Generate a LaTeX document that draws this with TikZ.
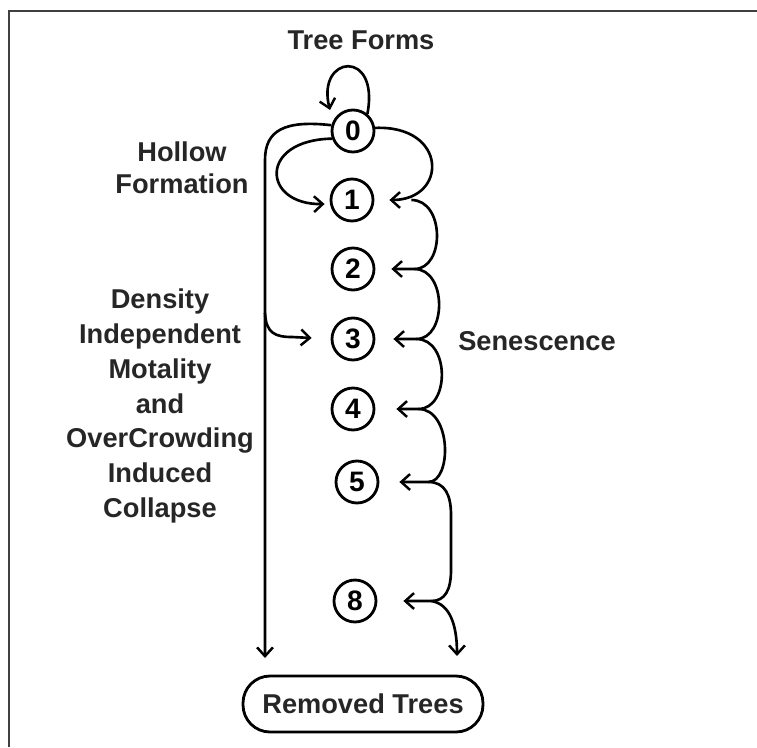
\documentclass[tikz,border=0pt]{standalone}
\usepackage{fontspec}
\setmainfont{Liberation Sans}
\usetikzlibrary{arrows.meta,calc}
\begin{document}
\begin{tikzpicture}[x=0.02cm,y=-0.02cm,
  lbl/.style={font=\bfseries\fontsize{15.5}{19.8}\selectfont, align=center, inner sep=0, text=black!85},
  st/.style={draw, circle, line width=1.6pt, minimum size=0.84cm, inner sep=0, font=\bfseries\fontsize{16}{18}\selectfont},
  arr/.style={line width=1.5pt, -{Straight Barb[length=5pt,width=9pt,line width=1.4pt]}},
  ln/.style={line width=1.5pt}]
\useasboundingbox (0,0) rectangle (757,747);
% frame
\draw[line width=1.2pt, black!75] (9,747) -- (9,11) -- (757,11);
% labels
\node[lbl] (tf) at (361,40) {Tree Forms};
\node[lbl, font=\bfseries\fontsize{15.5}{18.1}\selectfont] (hf) at (182,168) {Hollow\\Formation};
\node[lbl] (di) at (160,406) {Density\\Independent\\Motality\\and\\OverCrowding\\Induced\\Collapse};
\node[lbl] (sen) at (537,341) {Senescence};
% states
\node[st] (c0) at (353,131) {0};
\node[st] (c1) at (352,200) {1};
\node[st] (c2) at (353,269) {2};
\node[st] (c3) at (353,339) {3};
\node[st] (c4) at (353,409) {4};
\node[st] (c5) at (357,482) {5};
\node[st] (c8) at (355,601) {8};
\node[draw, line width=1.6pt, rounded corners=0.54cm, minimum width=4.8cm, minimum height=1.12cm,
      font=\bfseries\fontsize{15.5}{18}\selectfont, text=black!85] (rt) at (363,704) {Removed Trees};
% helper coordinates
\coordinate (t1) at ($(c1.east)+(15,0)$);
\coordinate (t2) at ($(c2.east)+(16,0)$);
\coordinate (t3) at ($(c3.east)+(18,0)$);
\coordinate (t4) at ($(c4.east)+(21,0)$);
\coordinate (t5) at ($(c5.east)+(20,0)$);
\coordinate (t8) at ($(c8.east)+(26,0)$);
\coordinate (j1) at ($(t1)+(22,0)$);
\coordinate (j2) at ($(t2)+(23,0)$);
\coordinate (j3) at ($(t3)+(23,0)$);
\coordinate (j4) at ($(t4)+(22,0)$);
\coordinate (j5) at ($(t5)+(29,0)$);
\coordinate (j8) at ($(t8)+(28,0)$);
\coordinate (lp) at ($(c0)+(-23,-21)$);
\coordinate (h1) at ($(c1.west)+(-5,4)$);
\coordinate (vb) at (265,658);
\coordinate (dv) at (265,313);
\coordinate (d3) at ($(c3.west)+(-19,-1)$);
\coordinate (rb) at (457,656);
% self loop
\draw[arr] (c0.50) .. controls (380,48) and (316,55) .. (lp);
% removal line
\draw[arr] (c0.165) .. controls (285,120) and (265,130) .. (265,160) -- (vb);
% hollow formation
\draw[arr] (c0.200) .. controls (258,140) and (262,205) .. (h1);
% density independent
\draw[arr] (dv) .. controls (266,333) and (275,337) .. (292,337) -- (d3);
% senescence
\draw[arr] (c0.8) .. controls (448,125) and (448,200) .. (t1);
\draw[arr] (j1) .. controls (445,200) and (445,269) .. (j2) -- (t2);
\draw[arr] (j2) .. controls (447,269) and (447,339) .. (j3) -- (t3);
\draw[arr] (j3) .. controls (450,339) and (450,409) .. (j4) -- (t4);
\draw[arr] (j4) .. controls (452,409) and (452,482) .. (j5) -- (t5);
\draw[arr] (j5) .. controls (445,482) and (451,495) .. (451,515) -- (451,570)
   .. controls (451,590) and (445,601) .. (j8) -- (t8);
\draw[arr] (j8) .. controls (450,604) and (457,625) .. (rb);
\end{tikzpicture}
\end{document}
